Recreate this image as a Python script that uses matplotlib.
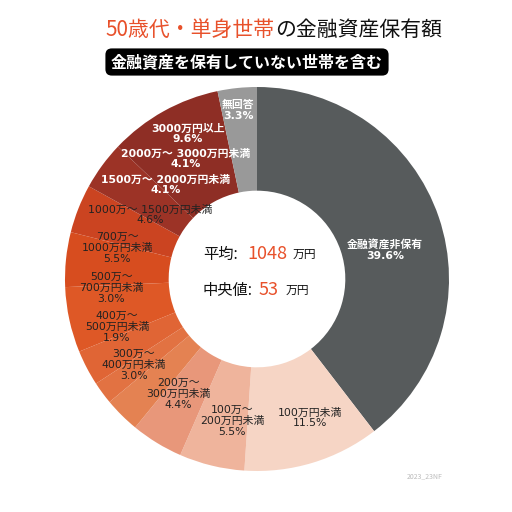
import matplotlib
matplotlib.use("Agg")
import matplotlib.pyplot as plt

plt.rcParams['font.family'] = ['Noto Sans CJK JP', 'DejaVu Sans']
LBL_FONT = ['DejaVu Sans', 'Noto Sans CJK JP']

# data (clockwise from 12 o'clock)
categories = ['金融資産非保有', '100万円未満', '100万〜\n200万円未満', '200万〜\n300万円未満',
              '300万〜\n400万円未満', '400万〜\n500万円未満', '500万〜\n700万円未満',
              '700万〜\n1000万円未満', '1000万〜 1500万円未満', '1500万〜 2000万円未満',
              '2000万〜 3000万円未満', '3000万円以上', '無回答']
shares = [39.6, 11.5, 5.5, 4.4, 3.0, 1.9, 3.0, 5.5, 4.6, 4.1, 4.1, 9.6, 3.3]
mean_val = 1048
median_val = 53

colors = ['#575b5c', '#f6d5c5', '#efb49c', '#e8977a', '#e48252', '#e27242', '#e06535',
          '#de5826', '#d74d1f', '#cb4421', '#9c3326', '#8e2e25', '#999999']
white_lbl = [True, False, False, False, False, False, False, False, False, True, True, True, True]
# label centres in pixel coordinates of the 512x512 picture
lbl_px = [(385, 250), (310, 418), (232, 421), (178, 394), (134, 365), (117, 327),
          (111, 288), (117, 248), (150, 215), (166, 185), (186, 159), (188, 134), (238, 110)]

CX, CY, R = 257, 279, 192


def px(x, y):
    return (x - CX) / R, (CY - y) / R


fig = plt.figure(figsize=(5.12, 5.12), dpi=100)
ax = fig.add_axes([0, 0, 1, 1])
ax.pie(shares, colors=colors, startangle=90, counterclock=False,
       wedgeprops=dict(width=0.54, linewidth=0))
ax.set_xlim(-CX / R, (512 - CX) / R)
ax.set_ylim(-(512 - CY) / R, CY / R)
ax.set_aspect('equal')
ax.axis('off')

for cat, v, w, (lx, ly) in zip(categories, shares, white_lbl, lbl_px):
    x, y = px(lx, ly)
    ax.text(x, y, f'{cat}\n{v:.1f}%', ha='center', va='center', fontsize=7.8,
            family=LBL_FONT, color='white' if w else '#222222',
            fontweight='bold' if w else 'normal', linespacing=1.1)

# title
tx, ty = px(275, 30)
ax.text(tx, ty, '50歳代・単身世帯', ha='right', va='center', fontsize=15, color='#e8512b')
ax.text(tx, ty, 'の金融資産保有額', ha='left', va='center', fontsize=15, color='#111111')
sx, sy = px(247, 62)
ax.text(sx, sy, '金融資産を保有していない世帯を含む', ha='center', va='center', fontsize=11.5,
        color='white', fontweight='bold',
        bbox=dict(boxstyle='round,pad=0.35,rounding_size=0.4', fc='black', ec='none'))

# centre text
for label, val, yy, xv, xu in [('平均:', mean_val, 254, 247, 293), ('中央値:', median_val, 290, 259, 286)]:
    x0, y0 = px(203, yy)
    ax.text(x0, y0, label, ha='left', va='center', fontsize=11, color='#111111')
    x1, _ = px(xv, yy)
    ax.text(x1, y0, str(val), ha='left', va='center', fontsize=13, color='#e8512b')
    x2, _ = px(xu, yy)
    ax.text(x2, y0, '万円', ha='left', va='center', fontsize=8.5, color='#111111')

wx, wy = px(425, 476)
ax.text(wx, wy, '2023_23NF', ha='center', va='center', fontsize=5, color='#bbbbbb')

fig.savefig('out.png', dpi=100, facecolor='white')
